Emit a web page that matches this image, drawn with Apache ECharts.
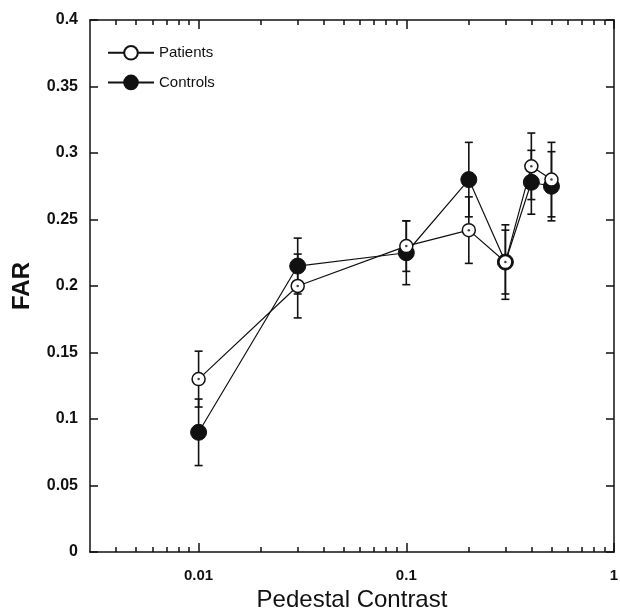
<!DOCTYPE html>
<html><head><meta charset="utf-8">
<script src="https://cdn.jsdelivr.net/npm/echarts@6/dist/echarts.min.js"></script>
<style>html,body{margin:0;padding:0;background:#fff}#c{width:620px;height:610px}</style>
</head><body><div id="c"></div>
<script>
const contrast = [0.01, 0.03, 0.1, 0.2, 0.3, 0.4, 0.5];
const patients = [0.13, 0.2, 0.23, 0.242, 0.218, 0.29, 0.28];
const patientsErr = [0.021, 0.024, 0.019, 0.025, 0.024, 0.025, 0.028];
const controls = [0.09, 0.215, 0.225, 0.28, 0.218, 0.278, 0.275];
const controlsErr = [0.025, 0.021, 0.024, 0.028, 0.028, 0.024, 0.026];
const xMajorTicks = [0.01, 0.1, 1];
const xMinorTicks = [0.004,0.005,0.006,0.007,0.008,0.009,0.02,0.03,0.04,0.05,0.06,0.07,0.08,0.09,0.2,0.3,0.4,0.5,0.6,0.7,0.8,0.9];
const yTicks = [0, 0.05, 0.1, 0.15, 0.2, 0.25, 0.3, 0.35, 0.4];

const INK = '#111';
const FONT = 'Liberation Sans, Arial, Helvetica, sans-serif';

function errData(vals, errs) {
  return contrast.map((c, i) => [c, vals[i] - errs[i], vals[i] + errs[i]]);
}
function errRender(params, api) {
  const x = api.value(0);
  const lo = api.coord([x, api.value(1)]);
  const hi = api.coord([x, api.value(2)]);
  const w = 4;
  const st = { stroke: INK, lineWidth: 1.6 };
  return { type: 'group', children: [
    { type: 'line', shape: { x1: lo[0], y1: lo[1], x2: hi[0], y2: hi[1] }, style: st },
    { type: 'line', shape: { x1: lo[0]-w, y1: lo[1], x2: lo[0]+w, y2: lo[1] }, style: st },
    { type: 'line', shape: { x1: hi[0]-w, y1: hi[1], x2: hi[0]+w, y2: hi[1] }, style: st }
  ]};
}

function xAxisDef(pos, major, showLine, showLabel) {
  return {
    type: 'log', logBase: 10, min: 0.003, max: 1, position: pos,
    axisLine: { show: showLine, onZero: false, lineStyle: { color: INK, width: 1.5 } },
    axisTick: { show: true, inside: true, length: major ? 9 : 5,
      customValues: major ? xMajorTicks : xMinorTicks,
      lineStyle: { color: INK, width: 1.5 } },
    axisLabel: { show: showLabel, customValues: xMajorTicks, margin: 16,
      color: INK, fontFamily: FONT, fontSize: 15, fontWeight: 'bold',
      formatter: v => String(v) },
    splitLine: { show: false },
    minorTick: { show: false },
    name: showLabel ? 'Pedestal Contrast' : '', nameLocation: 'middle', nameGap: 34,
    nameTextStyle: { color: INK, fontFamily: FONT, fontSize: 24 }
  };
}
function yAxisDef(pos, showLabel) {
  return {
    type: 'value', min: 0, max: 0.4, interval: 0.05, position: pos,
    axisLine: { show: true, onZero: false, lineStyle: { color: INK, width: 1.5 } },
    axisTick: { show: true, inside: true, length: 8, lineStyle: { color: INK, width: 1.5 } },
    axisLabel: { show: showLabel, margin: 12, color: INK, fontFamily: FONT, fontSize: 16, fontWeight: 'bold',
      formatter: v => String(+v.toFixed(2)) },
    splitLine: { show: false },
    name: showLabel ? 'FAR' : '', nameLocation: 'middle', nameGap: 56,
    nameTextStyle: { color: INK, fontFamily: FONT, fontSize: 24, fontWeight: 'bold' }
  };
}

const chart = echarts.init(document.getElementById('c'), null, { renderer: 'canvas' });
chart.setOption({
  animation: false,
  backgroundColor: '#fff',
  grid: { left: 90, right: 6, top: 20, bottom: 58, containLabel: false, outerBoundsMode: 'none' },
  xAxis: [
    xAxisDef('bottom', true, true, true),
    xAxisDef('bottom', false, false, false),
    xAxisDef('top', true, true, false),
    xAxisDef('top', false, false, false)
  ],
  yAxis: [ yAxisDef('left', true), yAxisDef('right', false) ],
  legend: {
    data: ['Patients', 'Controls'], orient: 'vertical', left: 102, top: 40,
    itemWidth: 46, itemHeight: 17, itemGap: 14,
    textStyle: { color: INK, fontFamily: FONT, fontSize: 15 }
  },
  series: [
    { type: 'custom', name: 'pe', renderItem: errRender, data: errData(patients, patientsErr),
      encode: { x: 0, y: [1, 2] }, z: 1 },
    { type: 'custom', name: 'ce', renderItem: errRender, data: errData(controls, controlsErr),
      encode: { x: 0, y: [1, 2] }, z: 1 },
    { type: 'line', name: 'Patients', data: contrast.map((c, i) => [c, patients[i]]),
      symbol: 'circle', symbolSize: 13, showSymbol: true, z: 3,
      lineStyle: { color: INK, width: 1.2 },
      itemStyle: { color: '#fff', borderColor: INK, borderWidth: 1.5 } },
    { type: 'line', name: 'Controls', data: contrast.map((c, i) => [c, controls[i]]),
      symbol: 'circle', symbolSize: 16, showSymbol: true, z: 2,
      lineStyle: { color: INK, width: 1.2 },
      itemStyle: { color: INK, borderColor: INK, borderWidth: 1 } },
    { type: 'scatter', name: 'dots', data: contrast.map((c, i) => [c, patients[i]]),
      symbol: 'circle', symbolSize: 2.5, z: 4, itemStyle: { color: INK } }
  ]
});
</script>
</body></html>
